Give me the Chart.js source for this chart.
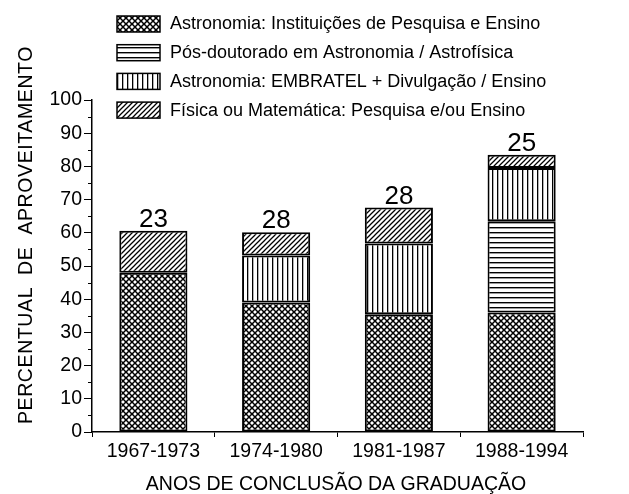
<!DOCTYPE html>
<html>
<head>
<meta charset="utf-8">
<script src="https://cdn.jsdelivr.net/npm/chart.js@4"></script>
<style>
html, body { margin: 0; padding: 0; background: #fff; }
</style>
</head>
<body>
<canvas id="grafico" width="629" height="494"></canvas>
<script>
// Dados
const periodos = ['1967-1973', '1974-1980', '1981-1987', '1988-1994'];
const rotulos = [
  'Astronomia: Instituições de Pesquisa e Ensino',
  'Pós-doutorado em Astronomia / Astrofísica',
  'Astronomia: EMBRATEL + Divulgação / Ensino',
  'Física ou Matemática: Pesquisa e/ou Ensino'
];
const instituicoes = [48, 39, 35.5, 36];
const posDoutorado = [null, null, null, 27.5];
const embratel = [null, 14.2, 21.3, 16];
const fisica = [12.6, 7, 10.8, 4];
const totais = [23, 28, 28, 25];

const FONTE = '"Liberation Sans", Arial, sans-serif';

function criarPadrao(tam, desenhar) {
  const c = document.createElement('canvas');
  c.width = tam; c.height = tam;
  const g = c.getContext('2d');
  g.fillStyle = '#fff';
  g.fillRect(0, 0, tam, tam);
  g.strokeStyle = '#000';
  desenhar(g, tam);
  return document.getElementById('grafico').getContext('2d').createPattern(c, 'repeat');
}

// xadrez diagonal (losangos brancos)
const padraoCruzado = criarPadrao(6, (g, t) => {
  g.lineWidth = 1.5;
  g.beginPath();
  g.moveTo(-1, -1); g.lineTo(t + 1, t + 1);
  g.moveTo(t + 1, -1); g.lineTo(-1, t + 1);
  g.stroke();
});
const padraoHorizontal = criarPadrao(5, (g, t) => {
  g.fillStyle = '#000';
  g.fillRect(0, 2, t, 1.4);
});
const padraoVertical = criarPadrao(5, (g, t) => {
  g.fillStyle = '#000';
  g.fillRect(2, 0, 1.3, t);
});
const padraoDiagonal = criarPadrao(5, (g, t) => {
  g.lineWidth = 1.25;
  g.beginPath();
  g.moveTo(-1, t + 1); g.lineTo(t + 1, -1);
  g.moveTo(-1, 1); g.lineTo(1, -1);
  g.moveTo(t - 1, t + 1); g.lineTo(t + 1, t - 1);
  g.stroke();
});

const padroes = [padraoCruzado, padraoHorizontal, padraoVertical, padraoDiagonal];

// eixos, legenda e rotulos desenhados a mao
const extras = {
  id: 'extras',
  afterDraw(chart) {
    const ctx = chart.ctx;
    const area = chart.chartArea;
    const y = chart.scales.y;
    ctx.save();

    // ticks menores
    ctx.strokeStyle = '#000';
    ctx.lineWidth = 1;
    for (let v = 5; v < 100; v += 10) {
      const py = Math.round(y.getPixelForValue(v)) + 0.5;
      ctx.beginPath();
      ctx.moveTo(area.left - 4, py);
      ctx.lineTo(area.left, py);
      ctx.stroke();
    }

    // totais acima das barras
    ctx.fillStyle = '#000';
    ctx.font = '26px ' + FONTE;
    ctx.textAlign = 'center';
    ctx.textBaseline = 'alphabetic';
    periodos.forEach((p, i) => {
      let topo = Infinity, cx = 0;
      chart.data.datasets.forEach((ds, d) => {
        if (ds.data[i] == null) return;
        const el = chart.getDatasetMeta(d).data[i];
        if (el.y < topo) { topo = el.y; cx = el.x; }
      });
      ctx.fillText(String(totais[i]), cx, topo - 4);
    });

    // titulo eixo x
    ctx.font = '19.5px ' + FONTE;
    ctx.textBaseline = 'middle';
    ctx.fillText('ANOS DE CONCLUSÃO DA GRADUAÇÃO', 336, 485);

    // titulo eixo y
    ctx.save();
    ctx.translate(27, 235);
    ctx.rotate(-Math.PI / 2);
    ctx.letterSpacing = '0.6px';
    ctx.wordSpacing = '6px';
    ctx.fillText('PERCENTUAL DE APROVEITAMENTO', 0, 0);
    ctx.restore();

    // legenda
    ctx.font = '18px ' + FONTE;
    ctx.textAlign = 'left';
    ctx.textBaseline = 'middle';
    rotulos.forEach((r, i) => {
      const by = 16 + i * 28.7;
      ctx.fillStyle = padroes[i];
      ctx.fillRect(117, by, 43, 16);
      ctx.lineWidth = 1.5;
      ctx.strokeStyle = '#000';
      ctx.strokeRect(117, by, 43, 16);
      ctx.fillStyle = '#000';
      ctx.fillText(r, 170, by + 8.5);
    });

    ctx.restore();
  }
};

const series = [instituicoes, posDoutorado, embratel, fisica];

new Chart(document.getElementById('grafico'), {
  type: 'bar',
  data: {
    labels: periodos,
    datasets: series.map((s, i) => ({
      label: rotulos[i],
      data: s,
      backgroundColor: padroes[i],
      borderColor: '#000',
      borderWidth: 2,
      borderSkipped: false,
      barPercentage: 0.555,
      categoryPercentage: 1
    }))
  },
  options: {
    responsive: false,
    animation: false,
    devicePixelRatio: 1,
    layout: { padding: { top: 100, right: 46, left: 0, bottom: 0 } },
    plugins: {
      legend: { display: false },
      tooltip: { enabled: false }
    },
    scales: {
      x: {
        stacked: true,
        afterFit: s => { s.height = 62; },
        grid: { offset: true, drawOnChartArea: false, tickLength: 5, color: '#000', lineWidth: 1 },
        border: { color: '#000', width: 1.5 },
        ticks: { color: '#000', font: { family: FONTE, size: 19.5 }, padding: 3, maxRotation: 0 }
      },
      y: {
        stacked: true,
        min: 0,
        max: 100,
        afterFit: s => { s.width = 92; },
        grid: { drawOnChartArea: false, tickLength: 8, color: '#000', lineWidth: 1 },
        border: { color: '#000', width: 1.5 },
        ticks: { stepSize: 10, color: '#000', font: { family: FONTE, size: 19.5 }, padding: 2 }
      }
    }
  },
  plugins: [extras]
});
</script>
</body>
</html>
